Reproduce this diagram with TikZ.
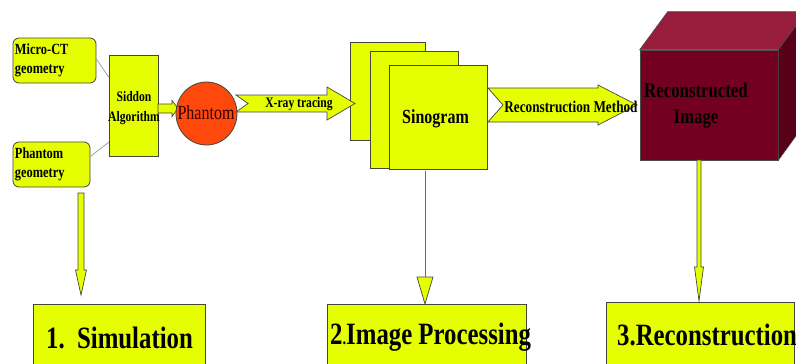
\documentclass[tikz,border=0pt]{standalone}
\usepackage{fontspec}
\newfontfamily\cf{Liberation Serif}[FakeStretch=0.8]
\usetikzlibrary{calc,shapes.geometric}
\definecolor{ylw}{RGB}{230,255,0}
\definecolor{bord}{RGB}{70,70,60}
\definecolor{thin}{RGB}{150,150,150}
\definecolor{phcol}{RGB}{255,72,12}
\definecolor{cubefront}{RGB}{115,0,32}
\definecolor{cubetop}{RGB}{152,28,60}
\definecolor{cubeside}{RGB}{88,0,24}
\newcommand\harrowshape[6]{%
  \path[arrowfill] ($(#1)+(0,-#3)$) -- ($(#2)+(-#5,-#3)$) -- ($(#2)+(-#5,-#4)$) -- (#2)
    -- ($(#2)+(-#5,#4)$) -- ($(#2)+(-#5,#3)$) -- ($(#1)+(0,#3)$) -- ($(#1)+(#6,0)$) -- cycle;}
\newcommand\varrowshape[5]{%
  \path[arrowfill] ($(#1)+(-#3,0)$) -- ($(#2)+(-#3,-#5)$) -- ($(#2)+(-#4,-#5)$) -- (#2)
    -- ($(#2)+(#4,-#5)$) -- ($(#2)+(#3,-#5)$) -- ($(#1)+(#3,0)$) -- cycle;}
\begin{document}
\begin{tikzpicture}[x=1pt,y=-1pt,font=\cf\bfseries,
  ybox/.style={draw=bord,fill=ylw,line width=0.8pt,inner sep=0pt},
  geobox/.style={ybox,rounded corners=6pt,align=left,text width=#1,
     font=\cf\bfseries\fontsize{15.5}{19}\selectfont},
  arrowfill/.style={draw=bord,fill=ylw,line width=0.7pt},
  bigtxt/.style={font=\cf\bfseries\fontsize{31}{36}\selectfont,inner sep=0pt},
  thinline/.style={draw=thin,line width=0.7pt}]
\clip (0,0) rectangle (796,364);
\fill[white] (0,0) rectangle (796,364);

% --- simulation stage ---
\node[geobox=79pt,minimum width=83pt,minimum height=45pt,inner xsep=2pt] (micro) at (54.5,60.5) {Micro-CT\\geometry};
\node[geobox=73pt,minimum width=77pt,minimum height=45pt,inner xsep=2pt] (phgeo) at (51.5,164.5) {Phantom\\geometry};
\node[ybox,minimum width=49pt,minimum height=101pt] (siddon) at (133.5,105.5) {};
\node[align=center,font=\cf\bfseries\fontsize{14.5}{20}\selectfont,inner sep=0pt] (siddontxt) at (134,108) {Siddon\\Algorithm};
\draw[thinline] (micro.east) ++(0,-1.5) coordinate (m1) (siddon.west) ++(0,-28.5) coordinate (s1);
\draw[thinline] (m1) -- (s1);
\coordinate (p1) at (91,156); \coordinate (s2) at (109,142);
\draw[thinline] (p1) -- (s2);

\coordinate (sa1) at (158,108.5); \coordinate (sa2) at (178,108.5);
\harrowshape{sa1}{sa2}{4.5}{8}{6}{0}
\node[ellipse,draw=bord,fill=phcol,line width=0.8pt,minimum width=61pt,minimum height=63pt,inner sep=0pt] (phantom) at (206.5,113.5) {};
\node[font=\cf\fontsize{20}{24}\selectfont,text=black!80!red,inner sep=0pt] (phtxt) at (206,113) {Phantom};

% --- sinogram stage ---
\node[ybox,minimum width=75pt,minimum height=98pt] (sino1) at (387.5,91) {};
\node[ybox,minimum width=88pt,minimum height=117pt] (sino2) at (414,109.5) {};
\node[ybox,minimum width=98pt,minimum height=104pt] (sino3) at (438,117) {};
\node[font=\cf\bfseries\fontsize{20}{24}\selectfont,inner sep=0pt] (sinotxt) at (435.5,119) {Sinogram};

\coordinate (xa1) at (236,103.5); \coordinate (xa2) at (355,103.5);
\harrowshape{xa1}{xa2}{8.5}{16.5}{28}{12}
\node[font=\cf\bfseries\fontsize{14.5}{16}\selectfont,inner sep=0pt] (xtxt) at (299,104) {X-ray tracing};

% --- reconstruction stage ---
\node[draw=black!70,fill=cubefront,line width=0.6pt,minimum width=138pt,minimum height=110pt,inner sep=0pt] (cube) at (709,105) {};
\path[draw=black!70,fill=cubetop,line width=0.6pt] (cube.north west) -- ++(28,-38) -- ++(138,0) -- (cube.north east) -- cycle;
\path[draw=black!70,fill=cubeside,line width=0.6pt] (cube.north east) -- ++(28,-38) -- ++(0,110) -- (cube.south east) -- cycle;
\node[align=center,font=\cf\bfseries\fontsize{21}{26}\selectfont,inner sep=0pt] (cubetxt) at (696,106) {Reconstructed\\Image};

\coordinate (ra1) at (488,105); \coordinate (ra2) at (637,105);
\harrowshape{ra1}{ra2}{17}{20}{39}{15}
\node[font=\cf\bfseries\fontsize{16.5}{18}\selectfont,inner sep=0pt] (rtxt) at (571,107) {Reconstruction Method};

% --- bottom stage boxes ---
\node[ybox,minimum width=172pt,minimum height=70pt] (b1) at (119,339) {};
\node[ybox,minimum width=199pt,minimum height=70pt] (b2) at (426.5,339) {};
\node[ybox,minimum width=188pt,minimum height=72pt] (b3) at (700,338) {};
\node[bigtxt] (t1) at (119.5,338) {1.\ \ Simulation};
\node[bigtxt,anchor=west] (t2) at (330,337) {2{\bfseries\fontsize{18}{20}\selectfont.}Image Processing};
\node[bigtxt,anchor=west] (t3) at (617,335) {3.Reconstruction};

% --- vertical arrows ---
\coordinate (va1) at (81,193); \coordinate (vb1) at (81,295);
\varrowshape{va1}{vb1}{3}{5.5}{25}
\coordinate (va2) at (425,171); \coordinate (vb2) at (425,304);
\draw[draw=bord!80,line width=0.8pt] (va2) -- ($(vb2)+(0,-27)$);
\path[arrowfill] ($(vb2)+(-8,-27)$) -- (vb2) -- ($(vb2)+(8,-27)$) -- cycle;
\coordinate (va3) at (699,160); \coordinate (vb3) at (699,301);
\varrowshape{va3}{vb3}{2}{4.5}{34}
\end{tikzpicture}
\end{document}
